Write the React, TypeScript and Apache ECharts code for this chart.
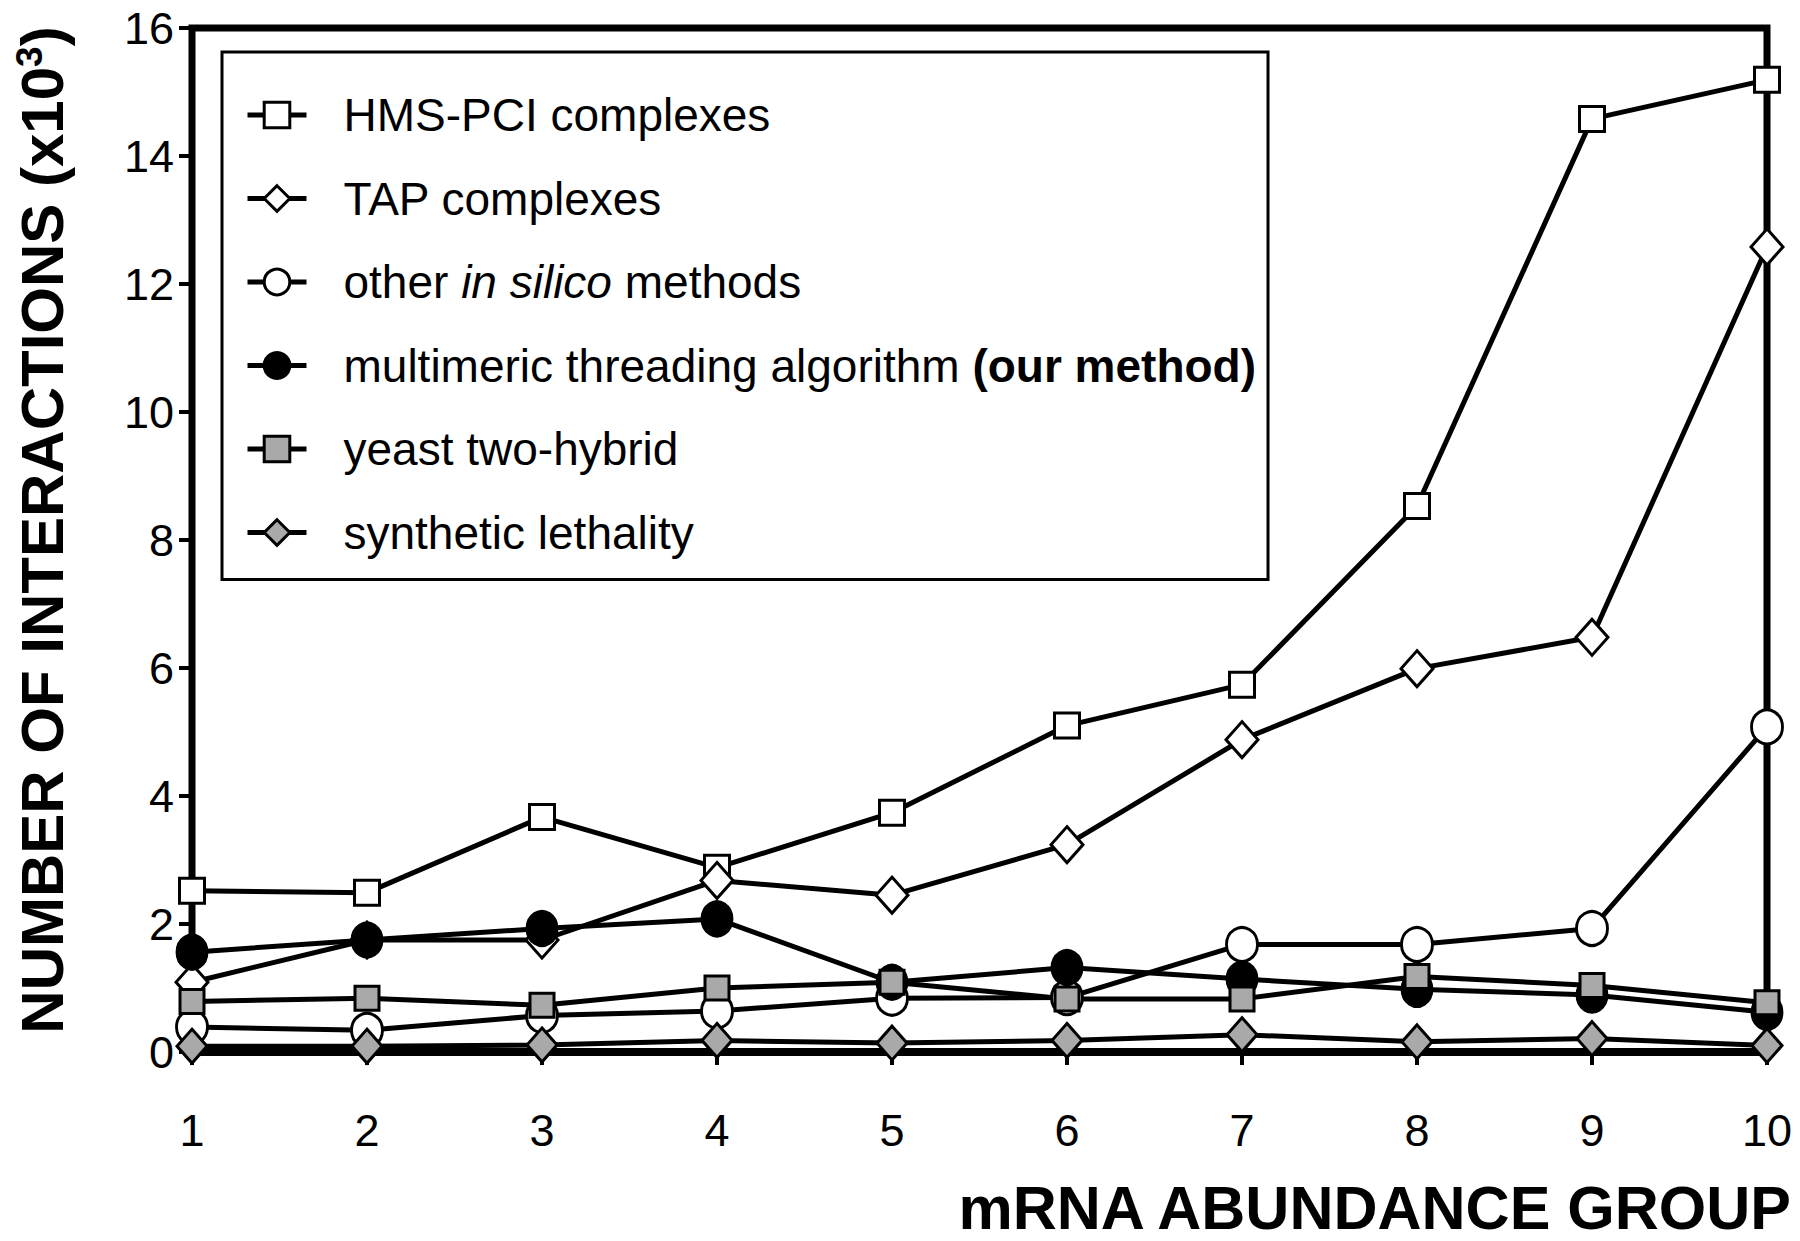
import React, { useEffect, useRef } from "react";
import * as echarts from "echarts";

const groups = [1, 2, 3, 4, 5, 6, 7, 8, 9, 10];
const hmsPci = [2.52, 2.49, 3.67, 2.88, 3.74, 5.1, 5.74, 8.53, 14.58, 15.19];
const tap = [1.09, 1.75, 1.75, 2.68, 2.45, 3.24, 4.88, 5.99, 6.48, 12.58];
const otherInSilico = [0.39, 0.34, 0.57, 0.64, 0.84, 0.85, 1.68, 1.68, 1.93, 5.08];
const multimeric = [1.56, 1.75, 1.93, 2.08, 1.09, 1.32, 1.14, 0.98, 0.89, 0.62];
const yeastTwoHybrid = [0.79, 0.84, 0.73, 1.0, 1.09, 0.83, 0.83, 1.18, 1.04, 0.77];
const syntheticLethality = [0.09, 0.09, 0.11, 0.18, 0.14, 0.18, 0.27, 0.16, 0.21, 0.1];

const seriesNames = [
  "HMS-PCI complexes",
  "TAP complexes",
  "other in silico methods",
  "multimeric threading algorithm (our method)",
  "yeast two-hybrid",
  "synthetic lethality",
];
const legendRich = [
  "{n|HMS-PCI complexes}",
  "{n|TAP complexes}",
  "{n|other }{i|in silico}{n| methods}",
  "{n|multimeric threading algorithm }{b|(our method)}",
  "{n|yeast two-hybrid}",
  "{n|synthetic lethality}",
];
const yTicks = [0, 2, 4, 6, 8, 10, 12, 14, 16];

const FONT = "Liberation Sans, Arial, sans-serif";
const GRAY = "#a9a9a9";

function mk(name: string, values: number[], symbol: string, fill: string, size: any) {
  return {
    name,
    type: "line",
    data: groups.map((g, i) => [g, values[i]]),
    symbol,
    symbolSize: size,
    showSymbol: true,
    lineStyle: { color: "#000", width: 5 },
    itemStyle: { color: fill, borderColor: "#000", borderWidth: 3 },
    emphasis: { disabled: true },
    clip: false,
  };
}

export default function App() {
  const ref = useRef<HTMLDivElement>(null);
  useEffect(() => {
    if (!ref.current) return;
    const chart = echarts.init(ref.current, null, { renderer: "svg" });
    const option: any = {
      animation: false,
      backgroundColor: "#fff",
      grid: {
        left: 192,
        right: 33,
        top: 28,
        bottom: 189,
        show: true,
        borderColor: "#000",
        borderWidth: 7,
      },
      xAxis: {
        type: "value",
        min: 1,
        max: 10,
        interval: 1,
        axisLine: { show: true, lineStyle: { color: "#000", width: 8 } },
        axisTick: { show: true, inside: false, length: 13, lineStyle: { color: "#000", width: 4 } },
        axisLabel: { color: "#000", fontSize: 45, fontFamily: FONT, margin: 56 },
        splitLine: { show: false },
      },
      yAxis: {
        type: "value",
        min: 0,
        max: 16,
        interval: 2,
        axisLine: { show: true, lineStyle: { color: "#000", width: 6 } },
        axisTick: { show: true, inside: false, length: 13, lineStyle: { color: "#000", width: 4 } },
        axisLabel: {
          color: "#000",
          fontSize: 45,
          fontFamily: FONT,
          margin: 18,
          formatter: (v: number) => (yTicks.indexOf(v) >= 0 ? String(v) : ""),
        },
        splitLine: { show: false },
      },
      legend: {
        show: true,
        orient: "vertical",
        left: 222,
        top: 52,
        data: seriesNames,
        itemWidth: 59,
        itemHeight: 32,
        itemGap: 33.5,
        padding: [38, 12, 22, 23],
        borderColor: "#000",
        borderWidth: 3,
        backgroundColor: "#fff",
        selectedMode: false,
        lineStyle: { color: "#000", width: 5 },
        itemStyle: { borderColor: "#000", borderWidth: 3 },
        formatter: (name: string) => legendRich[seriesNames.indexOf(name)],
        textStyle: {
          color: "#000",
          fontSize: 46,
          fontFamily: FONT,
          lineHeight: 50,
          padding: [0, 0, 0, 32],
          rich: {
            n: { fontSize: 46, fontFamily: FONT, color: "#000", lineHeight: 50 },
            i: { fontSize: 46, fontFamily: FONT, color: "#000", fontStyle: "italic", lineHeight: 50 },
            b: { fontSize: 46, fontFamily: FONT, color: "#000", fontWeight: "bold", lineHeight: 50 },
          },
        },
      },
      graphic: [
        {
          type: "text",
          x: 1791,
          y: 1208,
          style: {
            text: "{t|mRNA ABUNDANCE GROUP}",
            align: "right",
            verticalAlign: "middle",
            rich: {
              t: { fontSize: 61, fontWeight: "bold", fontFamily: FONT, fill: "#000", lineHeight: 62 },
            },
          },
        },
        {
          type: "text",
          x: 42,
          y: 530,
          rotation: Math.PI / 2,
          style: {
            text: "{b|NUMBER OF INTERACTIONS (x10}{s|3}{b|)}",
            align: "center",
            verticalAlign: "middle",
            rich: {
              b: { fontSize: 60, fontWeight: "bold", fontFamily: FONT, fill: "#000", lineHeight: 62 },
              s: { fontSize: 37, fontWeight: "bold", fontFamily: FONT, fill: "#000", verticalAlign: "top", lineHeight: 62 },
            },
          },
        },
      ],
      series: [
        mk(seriesNames[0], hmsPci, "rect", "#fff", 25),
        mk(seriesNames[1], tap, "diamond", "#fff", [32, 36]),
        mk(seriesNames[2], otherInSilico, "circle", "#fff", [31, 34]),
        mk(seriesNames[3], multimeric, "circle", "#000", [30, 34]),
        mk(seriesNames[4], yeastTwoHybrid, "rect", GRAY, 24),
        mk(seriesNames[5], syntheticLethality, "diamond", GRAY, [30, 34]),
      ],
    };
    chart.setOption(option);
    return () => chart.dispose();
  }, []);
  return (
    <div
      ref={ref}
      style={{ position: "absolute", left: 0, top: 0, width: 1800, height: 1241, background: "#fff" }}
    />
  );
}
